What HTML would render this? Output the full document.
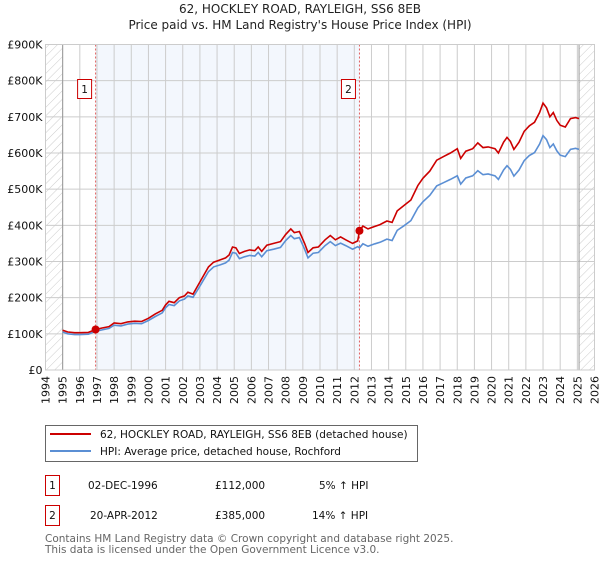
<!DOCTYPE html>
<html><head><meta charset="utf-8"><style>
body{margin:0;background:#fff;font-family:"DejaVu Sans","Liberation Sans",sans-serif;}
svg text{font-family:"DejaVu Sans","Liberation Sans",sans-serif;}
</style></head><body>
<svg id="chart" width="600" height="560" xmlns="http://www.w3.org/2000/svg">
<defs><pattern id="hatch" width="6" height="6" patternUnits="userSpaceOnUse" patternTransform="rotate(45)"><line x1="0" y1="0" x2="0" y2="6" stroke="#ccc" stroke-width="1"/></pattern></defs>
<text x="300" y="13" text-anchor="middle" font-size="12" fill="#222">62, HOCKLEY ROAD, RAYLEIGH, SS6 8EB</text>
<text x="300" y="29" text-anchor="middle" font-size="12" fill="#222">Price paid vs. HM Land Registry's House Price Index (HPI)</text>
<g id="plot"></g>
<g>
<rect x="45.5" y="425.5" width="372" height="36" fill="#fff" stroke="#666"/>
<line x1="50" y1="434" x2="91" y2="434" stroke="#cc0000" stroke-width="2"/>
<text x="100" y="438" font-size="10.5" fill="#111">62, HOCKLEY ROAD, RAYLEIGH, SS6 8EB (detached house)</text>
<line x1="50" y1="451" x2="91" y2="451" stroke="#5b8fd4" stroke-width="2"/>
<text x="100" y="455" font-size="10.5" fill="#111">HPI: Average price, detached house, Rochford</text>
</g>
<g font-size="10.5" fill="#111">
<rect x="45.5" y="475.5" width="14" height="20" fill="#fff" stroke="#cc0000"/>
<text x="52.5" y="489" text-anchor="middle">1</text>
<text x="88" y="489">02-DEC-1996</text><text x="215" y="489">£112,000</text><text x="319" y="489">5% ↑ HPI</text>
<rect x="45.5" y="505.5" width="14" height="20" fill="#fff" stroke="#cc0000"/>
<text x="52.5" y="519" text-anchor="middle">2</text>
<text x="90" y="519">20-APR-2012</text><text x="215" y="519">£385,000</text><text x="312" y="519">14% ↑ HPI</text>
</g>
<text x="45" y="542" font-size="10.5" fill="#666">Contains HM Land Registry data © Crown copyright and database right 2025.</text>
<text x="45" y="553" font-size="10.5" fill="#666">This data is licensed under the Open Government Licence v3.0.</text>
</svg>
<script>
const yearTicks=[1994,1995,1996,1997,1998,1999,2000,2001,2002,2003,2004,2005,2006,2007,2008,2009,2010,2011,2012,2013,2014,2015,2016,2017,2018,2019,2020,2021,2022,2023,2024,2025,2026];
const valueTicks=[0,100,200,300,400,500,600,700,800,900];
const valueTickLabels=["£0","£100K","£200K","£300K","£400K","£500K","£600K","£700K","£800K","£900K"];
const saleYears=[1996.92,2012.3];
const saleValues=[112,385];
const saleLabels=["1","2"];
const propYears=[1995.0,1995.3,1995.7,1996.0,1996.5,1996.92,1997.3,1997.7,1998.0,1998.4,1998.8,1999.2,1999.6,2000.0,2000.4,2000.8,2001.0,2001.2,2001.5,2001.8,2002.1,2002.3,2002.6,2002.9,2003.2,2003.5,2003.8,2004.2,2004.5,2004.7,2004.9,2005.1,2005.3,2005.6,2005.9,2006.2,2006.4,2006.6,2006.9,2007.3,2007.7,2008.0,2008.3,2008.5,2008.8,2009.1,2009.3,2009.6,2009.9,2010.3,2010.6,2010.9,2011.2,2011.5,2011.9,2012.2,2012.3,2012.5,2012.8,2013.2,2013.5,2013.9,2014.2,2014.5,2014.9,2015.3,2015.7,2016.0,2016.4,2016.8,2017.2,2017.6,2018.0,2018.2,2018.5,2018.9,2019.2,2019.5,2019.8,2020.2,2020.4,2020.7,2020.9,2021.1,2021.3,2021.6,2021.9,2022.2,2022.5,2022.8,2023.0,2023.2,2023.4,2023.6,2023.8,2024.0,2024.3,2024.6,2024.9,2025.1];
const propValues=[110,105,103,103,104,112,116,120,130,128,133,135,134,143,155,165,180,190,186,200,205,215,210,235,260,285,298,305,310,318,340,338,322,328,332,330,340,328,345,350,355,375,390,380,383,350,325,338,340,360,372,360,368,360,350,357,385,398,390,397,402,412,408,440,455,470,510,530,550,580,590,600,612,585,605,612,628,615,617,612,600,630,643,632,610,630,660,675,685,712,738,725,700,712,690,677,672,695,698,695];
const hpiValues=[105,100,98,98,99,107,111,115,124,122,127,129,128,137,148,158,172,181,178,191,196,205,201,224,248,272,285,291,296,304,325,323,308,313,317,315,325,313,330,334,339,358,372,363,366,334,310,323,325,344,355,344,351,344,334,341,338,349,342,349,353,362,358,386,399,413,448,465,483,509,518,527,537,514,531,537,551,540,542,537,527,553,565,555,536,553,579,593,601,625,648,637,615,625,606,594,590,610,613,610];

const NS="http://www.w3.org/2000/svg";
const L=45.5,R=594.5,T=44.5,B=370;
const x=y=>L+(y-1994)/(2026-1994)*(R-L);
const yv=v=>B-v/900*(B-T);
const g=document.getElementById('plot');
function mk(tag,attrs){const e=document.createElementNS(NS,tag);for(const k in attrs)e.setAttribute(k,attrs[k]);g.appendChild(e);return e;}
let e;
e=mk('rect',{x:L,y:T,width:x(1995)-L,height:B-T,fill:'url(#hatch)'});


e=mk('rect',{x:x(2025.1),y:T,width:R-x(2025.1),height:B-T,fill:'url(#hatch)'});


e=mk('rect',{x:x(saleYears[0]),y:T,width:x(saleYears[1])-x(saleYears[0]),height:B-T,fill:'#eef3fc',opacity:0.7});


yearTicks.forEach(yr=>{
 e=mk('line',{x1:x(yr),x2:x(yr),y1:T,y2:B,stroke:'#ccc','stroke-width':1});
 
 
 e=mk('text',{x:0,y:0,'font-size':11,fill:'#111','text-anchor':'end',transform:`translate(${x(yr)+4},${B+6}) rotate(-90)`});
 e.textContent=yr;
 
 
});
valueTicks.forEach((v,i)=>{
 e=mk('line',{x1:L,x2:R,y1:yv(v),y2:yv(v),stroke:'#ccc','stroke-width':1});
 
 
 e=mk('text',{x:L-3,y:yv(v)+4,'font-size':11,fill:'#111','text-anchor':'end'});
 e.textContent=valueTickLabels[i];
 
 
});
e=mk('line',{x1:x(1995),x2:x(1995),y1:T,y2:B,stroke:'#999'});


e=mk('line',{x1:x(2025.1),x2:x(2025.1),y1:T,y2:B,stroke:'#999'});


saleYears.forEach((s,i)=>{
 e=mk('line',{x1:x(s),x2:x(s),y1:T,y2:B,stroke:'#e06060','stroke-dasharray':'2,2','stroke-width':1});
 
 
 e=mk('rect',{x:x(s)-18,y:79.5,width:14,height:19,fill:'#fff',stroke:'#cc0000'});
 
 
 e=mk('text',{x:x(s)-11,y:93,'font-size':10.5,'text-anchor':'middle',fill:'#111'});
 e.textContent=saleLabels[i];
 
 
});
const pts=vals=>propYears.map((yr,i)=>x(yr).toFixed(1)+','+yv(vals[i]).toFixed(1)).join(' ');
e=mk('polyline',{points:pts(hpiValues),fill:'none',stroke:'#5b8fd4','stroke-width':1.6});


e=mk('polyline',{points:pts(propValues),fill:'none',stroke:'#cc0000','stroke-width':1.6});


saleYears.forEach((s,i)=>{
 e=mk('circle',{cx:x(s),cy:yv(saleValues[i]),r:4,fill:'#cc0000'});
 
 
});
e=mk('rect',{x:L,y:T,width:R-L,height:B-T,fill:'none',stroke:'#ccc'});


</script>
</body></html>
